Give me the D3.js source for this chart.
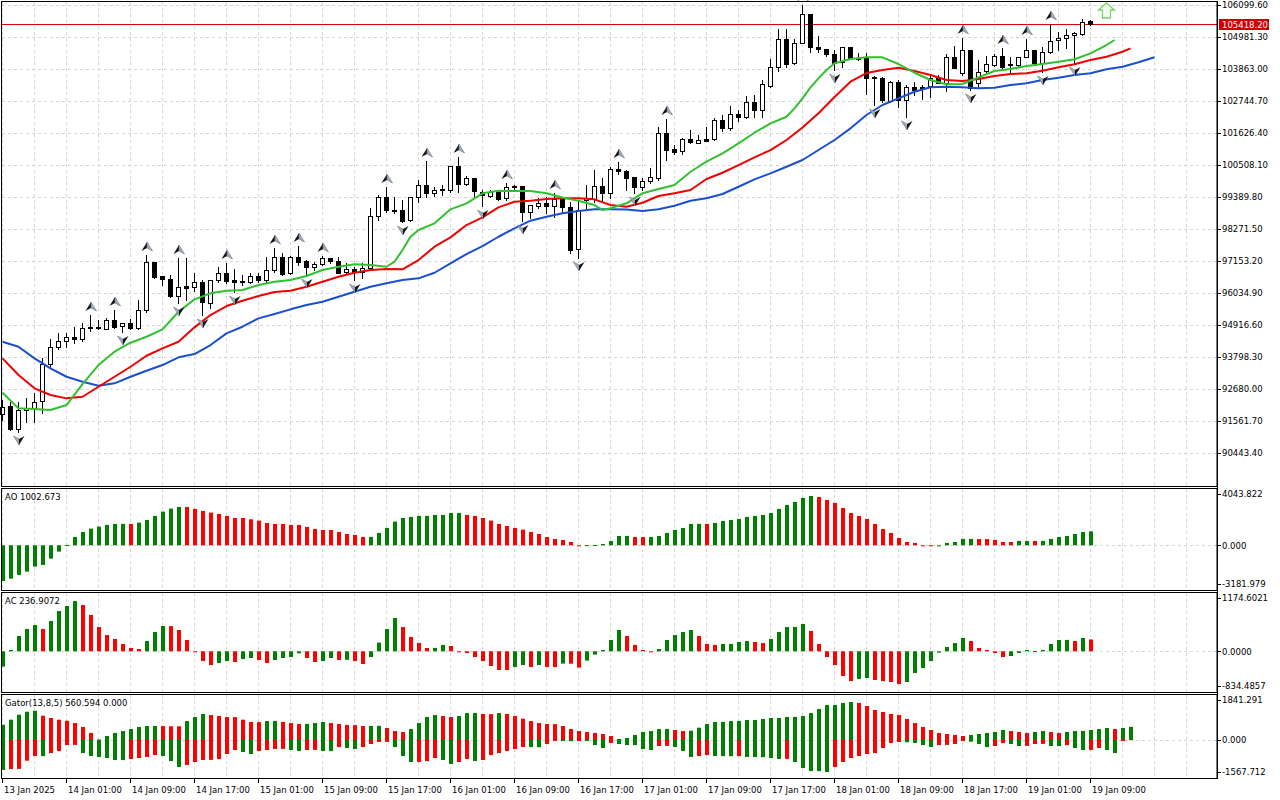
<!DOCTYPE html>
<html>
<head>
<meta charset="utf-8">
<title>BTCUSD H1 - Alligator, AO, AC, Gator</title>
<script src="https://cdn.jsdelivr.net/npm/d3@7"></script>
<style>
  html, body { margin: 0; padding: 0; background: #fff; }
  svg { display: block; font-family: "DejaVu Sans", "Liberation Sans", sans-serif; }
</style>
</head>
<body>
<div id="chart"></div>
<script>
// ---- data (hourly bars, 13 Jan 17:00 .. 19 Jan 09:00) ----
const timeLabels = ["13 Jan 2025", "14 Jan 01:00", "14 Jan 09:00", "14 Jan 17:00", "15 Jan 01:00",
  "15 Jan 09:00", "15 Jan 17:00", "16 Jan 01:00", "16 Jan 09:00", "16 Jan 17:00", "17 Jan 01:00",
  "17 Jan 09:00", "17 Jan 17:00", "18 Jan 01:00", "18 Jan 09:00", "18 Jan 17:00", "19 Jan 01:00",
  "19 Jan 09:00"];

const priceTicks = [106099.60, 104981.30, 103863.00, 102744.70, 101626.40, 100508.10, 99389.80,
  98271.50, 97153.20, 96034.90, 94916.60, 93798.30, 92680.00, 91561.70, 90443.40];
const lastPrice = 105418.20;

const opens = [91805, 92084, 91280, 91920, 92039, 92235, 93542, 94136, 94356, 94496,
  94416, 94835, 94835, 94786, 95090, 94856, 94975, 94786, 95415, 97128,
  96628, 96523, 95953, 96278, 96233, 96408, 95695, 96488, 96743, 96488,
  96453, 96429, 96628, 96488, 96837, 97302, 96743, 97302, 97152, 96953,
  97037, 97246, 97152, 96743, 96862, 96743, 96897, 98725, 99378, 98934,
  98934, 98560, 99378, 99808, 99518, 99658, 99633, 100472, 99833, 100042,
  99574, 99424, 99574, 99343, 99773, 99773, 98875, 99074, 99190, 99074,
  99319, 99050, 97561, 99260, 99308, 99773, 99518, 100357, 100308, 100077,
  99749, 99924, 100077, 101636, 101066, 100972, 101406, 101287, 101416, 101406,
  102080, 101790, 102290, 102174, 102699, 102412, 103268, 103922, 104901, 104062,
  104761, 105785, 104621, 104551, 104387, 104083, 104621, 104236, 104236, 103572,
  103537, 102755, 103419, 102779, 103223, 103223, 103244, 103593, 103398, 104292,
  103712, 104527, 103373, 103768, 104027, 104327, 104037, 104002, 104292, 104527,
  104083, 104467, 104852, 104935, 105040, 105086, 105530];
const highs = [92294, 92235, 92235, 92364, 92539, 93772, 94416, 94646, 94646, 94835,
  94996, 95265, 95090, 95149, 95440, 94975, 95114, 95789, 97362, 97128,
  96628, 96663, 97267, 97246, 96722, 96488, 96488, 96953, 97072, 96862,
  96663, 96722, 96722, 97302, 97596, 97421, 97327, 97676, 97187, 97128,
  97327, 97267, 97302, 97072, 96953, 97072, 98994, 99459, 99728, 99399,
  99284, 99378, 99983, 100658, 99749, 99808, 100472, 100797, 100123, 100042,
  99633, 99633, 99574, 99868, 99808, 99773, 99109, 99343, 99399, 99518,
  99319, 99225, 99284, 99808, 100332, 100042, 100448, 100623, 100332, 100077,
  100042, 100392, 101846, 102105, 101206, 101440, 101731, 101556, 101846, 102139,
  102255, 102569, 102430, 102919, 102954, 103478, 104202, 105250, 105250, 104901,
  106099, 105785, 105016, 104551, 104527, 104642, 104621, 104432, 104411, 103618,
  103572, 103454, 103478, 103303, 103419, 103303, 103653, 103653, 104376, 104677,
  104935, 104527, 104177, 104327, 104404, 104607, 104271, 104292, 104901, 104527,
  104642, 105435, 105166, 105250, 105166, 105600, 105575];
const lows = [91595, 91245, 91186, 91536, 91536, 91850, 93402, 94076, 94136, 94297,
  94356, 94706, 94765, 94765, 94800, 94681, 94786, 94786, 95380, 96547,
  96313, 95904, 95695, 95789, 96114, 95265, 95499, 96429, 96394, 96079,
  96313, 96373, 96429, 96429, 96778, 96663, 96715, 97012, 96663, 96837,
  97012, 97093, 96722, 96698, 96488, 96558, 96897, 98585, 98875, 98819,
  98526, 98560, 99225, 99399, 99424, 99459, 99553, 99574, 99808, 99399,
  99074, 99399, 99284, 99284, 99658, 98560, 98655, 98994, 98819, 98700,
  98830, 97442, 97267, 98994, 99225, 99225, 99343, 100193, 99633, 99518,
  99633, 99868, 99983, 100682, 100892, 100892, 101266, 101266, 101346, 101381,
  101706, 101731, 102056, 102139, 102195, 102195, 103223, 103803, 103943, 104037,
  104761, 104467, 104467, 104317, 103828, 103943, 104202, 104177, 102989, 102604,
  102720, 102720, 102545, 102195, 102954, 102804, 102894, 103363, 103094, 103887,
  103653, 103129, 103188, 103747, 103967, 103908, 103768, 103943, 104271, 104062,
  103768, 104432, 104527, 104586, 104062, 105051, 105400];
const closes = [92049, 91280, 91945, 92004, 92235, 93542, 94136, 94356, 94496, 94416,
  94800, 94786, 94786, 95090, 94856, 94975, 94786, 95429, 97107, 96603,
  96512, 95939, 96254, 96219, 96408, 95695, 96488, 96743, 96453, 96429,
  96408, 96628, 96488, 96837, 97302, 96722, 97302, 97128, 96953, 97047,
  97246, 97128, 96743, 96862, 96743, 96897, 98725, 99378, 98910, 98889,
  98560, 99378, 99808, 99518, 99633, 99609, 100472, 99833, 100042, 99574,
  99459, 99574, 99343, 99728, 99728, 98875, 99109, 99190, 99074, 99319,
  99022, 97536, 98934, 99343, 99773, 99518, 100357, 100273, 100077, 99728,
  99958, 100077, 101636, 101056, 100972, 101406, 101287, 101381, 101357, 102080,
  101790, 102290, 102174, 102699, 102405, 103338, 103922, 104901, 104037, 104761,
  105785, 104642, 104551, 104387, 104083, 104621, 104236, 104202, 103537, 103523,
  102755, 103419, 102779, 103223, 103104, 103174, 103537, 103398, 104292, 103922,
  104527, 103188, 103768, 104027, 104327, 103943, 104002, 104271, 104527, 104083,
  104467, 104852, 104935, 105051, 105110, 105516, 105418.2];

// Alligator lines as [bar index incl. forward shift, price]
const jaw = [[0, 94332], [2, 94157], [4, 93751], [6, 93402], [8, 93108], [10, 92934], [12, 92794],
  [14, 92878], [16, 93108], [18, 93318], [20, 93517], [22, 93786], [24, 93902], [26, 94216],
  [28, 94625], [30, 94856], [32, 95149], [34, 95300], [36, 95464], [38, 95614], [40, 95730],
  [42, 95904], [44, 96079], [46, 96254], [48, 96373], [50, 96488], [52, 96547], [54, 96743],
  [56, 97072], [58, 97397], [60, 97676], [62, 98001], [64, 98295], [66, 98561], [68, 98700],
  [70, 98819], [72, 98900], [74, 98959], [76, 98959], [78, 98950], [80, 98900], [82, 98959],
  [84, 99085], [86, 99260], [88, 99343], [90, 99494], [92, 99749], [94, 100007], [96, 100217],
  [98, 100448], [100, 100682], [102, 101032], [104, 101381], [106, 101790], [108, 102255],
  [110, 102604], [112, 102838], [114, 103069], [116, 103223], [118, 103244], [120, 103223],
  [122, 103188], [124, 103209], [126, 103303], [128, 103363], [130, 103478], [132, 103558],
  [134, 103653], [136, 103712], [138, 103852], [140, 103943], [142, 104097], [144, 104271]];
const teeth = [[0, 93751], [2, 93168], [4, 92703], [6, 92469], [8, 92353], [10, 92409], [12, 92759],
  [14, 93108], [16, 93458], [18, 93842], [20, 94101], [22, 94332], [24, 94835], [26, 95265],
  [28, 95579], [30, 95765], [32, 95929], [34, 96069], [36, 96114], [38, 96254], [40, 96429],
  [42, 96603], [44, 96743], [46, 96837], [48, 96872], [50, 96862], [52, 97187], [54, 97652],
  [56, 97980], [58, 98410], [60, 98679], [62, 99029], [64, 99225], [66, 99260], [68, 99319],
  [70, 99343], [72, 99343], [74, 99308], [76, 99109], [78, 99050], [80, 99190], [82, 99424],
  [84, 99518], [86, 99633], [88, 100018], [90, 100238], [92, 100507], [94, 100776], [96, 101031],
  [98, 101381], [100, 101818], [102, 102314], [104, 102884], [106, 103419], [108, 103723],
  [110, 103828], [112, 103908], [114, 103793], [116, 103653], [118, 103478], [120, 103443],
  [122, 103513], [124, 103618], [126, 103688], [128, 103712], [130, 103803], [132, 103922],
  [134, 104027], [136, 104177], [138, 104292], [140, 104467], [141, 104586]];
const lips = [[0, 92549], [2, 92004], [4, 91979], [6, 91945], [8, 92119], [10, 92853], [12, 93517],
  [14, 93982], [16, 94297], [18, 94506], [20, 94765], [22, 95380], [24, 95813], [26, 96023],
  [28, 96114], [30, 96139], [32, 96313], [34, 96429], [36, 96488], [38, 96628], [40, 96837],
  [42, 96953], [44, 97037], [46, 97012], [48, 96953], [49, 97128], [50, 97537], [51, 98001],
  [52, 98236], [54, 98470], [56, 98959], [58, 99169], [60, 99518], [62, 99609], [64, 99599],
  [66, 99599], [68, 99518], [70, 99371], [72, 99260], [74, 99109], [75, 98934], [76, 98994],
  [78, 99169], [80, 99518], [82, 99668], [84, 99808], [86, 100273], [88, 100623], [90, 100916],
  [92, 101266], [94, 101636], [96, 101965], [98, 102195], [99, 102489], [100, 102838],
  [101, 103223], [102, 103537], [103, 103828], [104, 104062], [106, 104212], [108, 104271],
  [110, 104271], [112, 104037], [114, 103733], [116, 103478], [118, 103328], [120, 103338],
  [122, 103572], [124, 103793], [126, 103862], [128, 103967], [130, 104037], [132, 104118],
  [134, 104202], [136, 104411], [138, 104701], [139, 104876]];

const fractalUp = [11, 14, 18, 22, 28, 34, 37, 40, 48, 53, 57, 63, 69, 77, 83, 100, 120, 125, 128, 131];
const fractalDown = [2, 15, 22, 25, 29, 38, 44, 50, 60, 65, 72, 79, 104, 109, 113, 121, 130, 134];
const signalArrow = { index: 138, price: 106170 };

const aoValues = [-2568, -2400, -2136, -1896, -1536, -1416, -960, -456, 24, 600,
  960, 1200, 1344, 1464, 1536, 1540, 1535, 1632, 1824, 2112,
  2424, 2640, 2760, 2755, 2616, 2472, 2352, 2256, 2112, 1968,
  1965, 1872, 1776, 1608, 1536, 1532, 1464, 1460, 1320, 1176,
  1104, 1100, 960, 816, 744, 600, 604, 888, 1248, 1704,
  1968, 2040, 2112, 2115, 2184, 2187, 2328, 2330, 2184, 2112,
  1968, 1776, 1536, 1392, 1248, 1128, 960, 816, 600, 456,
  384, 240, -20, 10, 20, 96, 312, 672, 675, 600,
  598, 602, 672, 888, 1104, 1248, 1536, 1540, 1538, 1608,
  1752, 1824, 1896, 2040, 2112, 2184, 2328, 2616, 2904, 3120,
  3408, 3552, 3480, 3264, 3048, 2688, 2328, 2112, 1896, 1536,
  1176, 888, 528, 240, 168, -15, -25, -10, 168, 240,
  456, 460, 452, 448, 384, 240, 236, 312, 315, 310,
  314, 456, 600, 672, 816, 960, 1002.673];
const aoTicks = [4043.822, 0, -3181.979];

const acValues = [-306, 26, 306, 446, 526, 446, 606, 806, 906, 1006,
  926, 726, 486, 326, 246, 146, 66, 46, 206, 386,
  506, 504, 426, 226, -10, -194, -274, -234, -194, -214,
  -154, -134, -174, -234, -174, -134, -114, -40, -134, -214,
  -194, -134, -174, -170, -194, -254, -114, 174, 446, 666,
  486, 286, 166, 66, 68, 126, 106, -10, -34, -114,
  -194, -294, -374, -376, -314, -274, -314, -274, -314, -316,
  -246, -248, -326, -186, -66, 26, 226, 426, 306, 126,
  26, -6, 46, 226, 326, 386, 426, 306, 146, 126,
  146, 148, 186, 206, 186, 166, 246, 386, 486, 488,
  546, 406, 146, -114, -274, -494, -594, -554, -534, -574,
  -594, -614, -654, -614, -434, -334, -194, -26, 86, 166,
  266, 206, 66, 26, -34, -114, -94, -34, 26, 6,
  28, 146, 226, 228, 206, 266, 236.9072];
const acTicks = [1174.6021, 0, -834.4857];

const gatorUp = [652, 865, 1078, 1206, 1248, 1035, 937, 865, 822, 724,
  554, 298, 21, 170, 298, 383, 469, 554, 596, 601,
  592, 588, 584, 809, 980, 1108, 1065, 1022, 980, 976,
  865, 767, 763, 809, 814, 767, 724, 682, 686, 724,
  767, 724, 682, 639, 635, 596, 601, 605, 511, 383,
  341, 469, 724, 980, 1065, 1022, 980, 1022, 1150, 1154,
  1108, 1103, 1150, 1108, 1022, 907, 809, 724, 682, 677,
  596, 469, 383, 341, 298, 256, 170, 43, 85, 213,
  341, 383, 469, 473, 426, 383, 396, 524, 682, 767,
  771, 809, 814, 852, 856, 895, 937, 941, 980, 984,
  1022, 1150, 1321, 1491, 1495, 1576, 1619, 1576, 1448, 1278,
  1193, 1108, 1065, 895, 724, 554, 426, 298, 256, 213,
  170, 213, 256, 298, 341, 426, 383, 341, 298, 341,
  383, 341, 298, 341, 383, 388, 426, 469, 511, 469,
  511, 560.594];
const gatorDown = [-1278, -1235, -1231, -882, -682, -686, -554, -469, -213, -209,
  -554, -682, -724, -767, -852, -856, -809, -767, -724, -639,
  -682, -895, -1150, -1065, -937, -852, -848, -809, -596, -426,
  -511, -596, -469, -426, -383, -379, -426, -469, -426, -422,
  -469, -473, -298, -341, -383, -298, -170, -85, -81, -298,
  -682, -937, -933, -895, -767, -852, -1022, -937, -809, -895,
  -852, -639, -554, -469, -383, -298, -302, -307, -170, -43,
  -47, -51, -21, -43, -213, -341, -128, -170, -213, -217,
  -383, -426, -256, -251, -298, -469, -724, -682, -639, -682,
  -686, -690, -686, -724, -728, -733, -767, -809, -805, -937,
  -1193, -1321, -1325, -1363, -1150, -937, -767, -682, -596, -554,
  -341, -128, -85, -94, -128, -213, -298, -213, -209, -170,
  -30, -72, -170, -298, -256, -128, -170, -256, -251, -170,
  -166, -256, -260, -213, -341, -426, -422, -341, -426, -554,
  -43, 0];
const gatorTicks = [1841.291, 0, -1567.712];

// ---- layout ----
const width = 1280, height = 800;
const plotRight = 1217;
const GREEN = "#008000", RED = "#ff0000";
const gridColor = "#d6d6d6";

const panels = {
  main:  { top: 1,   bottom: 486 },
  ao:    { top: 488, bottom: 590 },
  ac:    { top: 592, bottom: 692 },
  gator: { top: 694, bottom: 778 }
};

const x = d3.scaleLinear().domain([0, 136]).range([2, 1090]);
const yMain = d3.scaleLinear().domain([90443.4, 106099.6]).range([453, 5]);
const yAO = d3.scaleLinear().domain([-3181.979, 4043.822]).range([589.5, 489.1]);
const yAC = d3.scaleLinear().domain([-834.4857, 1174.6021]).range([693, 592.6]);
const yGator = d3.scaleLinear().domain([-1567.712, 1841.291]).range([776.8, 696.8]);

const crisp = v => Math.round(v) + 0.5;

const svg = d3.select("#chart").append("svg")
  .attr("width", width)
  .attr("height", height);

svg.append("rect").attr("width", width).attr("height", height).attr("fill", "#fff");

// grid
const gridIdx = d3.range(0, 149, 4);
Object.values(panels).forEach(p => {
  svg.append("g").selectAll("line")
    .data(gridIdx)
    .join("line")
    .attr("x1", d => x(d) + 0.5).attr("x2", d => x(d) + 0.5)
    .attr("y1", p.top + 1).attr("y2", p.bottom)
    .attr("stroke", gridColor)
    .attr("stroke-dasharray", "3,3");
});

svg.append("g").selectAll("line")
  .data(priceTicks)
  .join("line")
  .attr("x1", 2).attr("x2", plotRight)
  .attr("y1", d => crisp(yMain(d))).attr("y2", d => crisp(yMain(d)))
  .attr("stroke", gridColor)
  .attr("stroke-dasharray", "3,3");

[yAO, yAC, yGator].forEach(sc => {
  svg.append("line")
    .attr("x1", 2).attr("x2", plotRight)
    .attr("y1", crisp(sc(0))).attr("y2", crisp(sc(0)))
    .attr("stroke", gridColor)
    .attr("stroke-dasharray", "3,3");
});

// current price line
svg.append("line")
  .attr("x1", 2).attr("x2", plotRight)
  .attr("y1", crisp(yMain(lastPrice))).attr("y2", crisp(yMain(lastPrice)))
  .attr("stroke", "#e00000")
  .attr("stroke-width", 1);

// candles
const candles = opens.map((o, i) => ({ i, o, h: highs[i], l: lows[i], c: closes[i] }));

const gCandles = svg.append("g");
gCandles.selectAll("line.wick")
  .data(candles)
  .join("line")
  .attr("class", "wick")
  .attr("x1", d => x(d.i) + 0.5).attr("x2", d => x(d.i) + 0.5)
  .attr("y1", d => Math.round(yMain(d.h))).attr("y2", d => Math.round(yMain(d.l)) + 1)
  .attr("stroke", "#000");

gCandles.selectAll("rect.body")
  .data(candles)
  .join("rect")
  .attr("class", "body")
  .attr("x", d => x(d.i) - 1.5)
  .attr("width", 4)
  .attr("y", d => Math.round(Math.min(yMain(d.o), yMain(d.c))) + 0.5)
  .attr("height", d => Math.max(1, Math.round(Math.abs(yMain(d.o) - yMain(d.c)))))
  .attr("fill", d => d.c >= d.o ? "#fff" : "#000")
  .attr("stroke", "#000");

// alligator
const line = d3.line().x(d => x(d[0]) + 0.5).y(d => yMain(d[1]));
[[jaw, "#1a4fd0"], [teeth, "#f00000"], [lips, "#30c030"]].forEach(([data, color]) => {
  svg.append("path")
    .datum(data)
    .attr("d", line)
    .attr("fill", "none")
    .attr("stroke", color)
    .attr("stroke-width", 2)
    .attr("stroke-linejoin", "round");
});

// fractals
const gFr = svg.append("g");
fractalUp.forEach(i => {
  const cx = x(i) + 1, yb = Math.round(yMain(highs[i])) - 4, t = yb - 9;
  gFr.append("path").attr("d", `M${cx},${t}L${cx - 5.5},${yb}L${cx},${yb - 3}Z`).attr("fill", "#161616");
  gFr.append("path").attr("d", `M${cx},${t}L${cx},${yb - 3}L${cx + 5.5},${yb}Z`)
    .attr("fill", "#a3acbb").attr("stroke", "#6c7685").attr("stroke-width", 0.6);
});
fractalDown.forEach(i => {
  const cx = x(i) + 1, yt = Math.round(yMain(lows[i])) + 4, b = yt + 9;
  gFr.append("path").attr("d", `M${cx},${b}L${cx - 5.5},${yt}L${cx},${yt + 3}Z`)
    .attr("fill", "#a3acbb").attr("stroke", "#6c7685").attr("stroke-width", 0.6);
  gFr.append("path").attr("d", `M${cx},${b}L${cx},${yt + 3}L${cx + 5.5},${yt}Z`).attr("fill", "#161616");
});

// buy signal arrow
{
  const cx = x(signalArrow.index) + 0.5, t = yMain(signalArrow.price);
  svg.append("path")
    .attr("d", `M${cx},${t}L${cx + 8},${t + 7}L${cx + 4},${t + 7}L${cx + 4},${t + 15}L${cx - 4},${t + 15}L${cx - 4},${t + 7}L${cx - 8},${t + 7}Z`)
    .attr("fill", "#f4fff0")
    .attr("stroke", "#7cd46a")
    .attr("stroke-width", 1.3);
}

// histograms
function histogram(values, sc, colorFn) {
  const y0 = sc(0);
  svg.append("g").selectAll("rect")
    .data(values.map((v, i) => ({ i, v })).filter(d => d.v !== 0))
    .join("rect")
    .attr("x", d => x(d.i) - 1)
    .attr("width", 4)
    .attr("y", d => Math.min(sc(d.v), y0))
    .attr("height", d => Math.max(1, Math.abs(sc(d.v) - y0)))
    .attr("fill", d => colorFn(d.i));
}
const risingColor = arr => i => (i === 0 || arr[i] > arr[i - 1]) ? GREEN : RED;
histogram(aoValues, yAO, risingColor(aoValues));
histogram(acValues, yAC, risingColor(acValues));
histogram(gatorUp, yGator, risingColor(gatorUp));
histogram(gatorDown, yGator, i => (i === 0 || Math.abs(gatorDown[i]) > Math.abs(gatorDown[i - 1])) ? GREEN : RED);

// panel frames
Object.values(panels).forEach(p => {
  svg.append("rect")
    .attr("x", 1.5).attr("y", p.top + 0.5)
    .attr("width", plotRight - 1.5).attr("height", p.bottom - p.top)
    .attr("fill", "none")
    .attr("stroke", "#000");
});

// right price axis
const axisFont = 8.5;
const gAxis = svg.append("g").attr("font-size", axisFont).attr("fill", "#000");
gAxis.selectAll("line.pt")
  .data(priceTicks)
  .join("line")
  .attr("x1", plotRight).attr("x2", plotRight + 4)
  .attr("y1", d => crisp(yMain(d))).attr("y2", d => crisp(yMain(d)))
  .attr("stroke", "#000");
gAxis.selectAll("text.pt")
  .data(priceTicks)
  .join("text")
  .attr("x", plotRight + 5)
  .attr("y", d => yMain(d) + 3.3)
  .text(d => d.toFixed(2));

// last price tag
{
  const yl = crisp(yMain(lastPrice));
  svg.append("rect")
    .attr("x", plotRight + 2).attr("y", yl - 5.5)
    .attr("width", 50).attr("height", 11)
    .attr("fill", "#cc0000");
  svg.append("text")
    .attr("x", plotRight + 5).attr("y", yl + 3.3)
    .attr("font-size", axisFont).attr("fill", "#fff")
    .text(lastPrice.toFixed(2));
}

// sub-window scales
function subAxis(ticks, sc, p, digits) {
  ticks.forEach(v => {
    const yy = Math.min(Math.max(sc(v), p.top + 6), p.bottom - 6);
    gAxis.append("line")
      .attr("x1", plotRight).attr("x2", plotRight + 4)
      .attr("y1", crisp(yy)).attr("y2", crisp(yy))
      .attr("stroke", "#000");
    gAxis.append("text")
      .attr("x", plotRight + 5).attr("y", yy + 3.3)
      .text(v.toFixed(digits));
  });
}
subAxis(aoTicks, yAO, panels.ao, 3);
subAxis(acTicks, yAC, panels.ac, 4);
subAxis(gatorTicks, yGator, panels.gator, 3);

// axis line
svg.append("line")
  .attr("x1", plotRight + 0.5).attr("x2", plotRight + 0.5)
  .attr("y1", 1).attr("y2", panels.gator.bottom + 1)
  .attr("stroke", "#000");

// sub-window titles
const lastAO = aoValues[aoValues.length - 1];
const lastAC = acValues[acValues.length - 1];
const lastGU = gatorUp[gatorUp.length - 1];
const lastGD = Math.abs(gatorDown[gatorDown.length - 1]);
[[`AO ${lastAO.toFixed(3)}`, panels.ao], [`AC ${lastAC.toFixed(4)}`, panels.ac],
 [`Gator(13,8,5) ${lastGU.toFixed(3)} ${lastGD.toFixed(3)}`, panels.gator]].forEach(([t, p]) => {
  svg.append("text")
    .attr("x", 5).attr("y", p.top + 12)
    .attr("font-size", axisFont).attr("fill", "#000")
    .text(t);
});

// time axis
const timeIdx = d3.range(0, 137, 8);
const gTime = svg.append("g").attr("font-size", axisFont).attr("fill", "#000");
gTime.selectAll("line")
  .data(timeIdx)
  .join("line")
  .attr("x1", d => x(d) + 0.5).attr("x2", d => x(d) + 0.5)
  .attr("y1", panels.gator.bottom).attr("y2", panels.gator.bottom + 5)
  .attr("stroke", "#000");
gTime.selectAll("text")
  .data(timeIdx)
  .join("text")
  .attr("x", d => x(d) + 2)
  .attr("y", panels.gator.bottom + 15)
  .text((d, k) => timeLabels[k]);
</script>
</body>
</html>
